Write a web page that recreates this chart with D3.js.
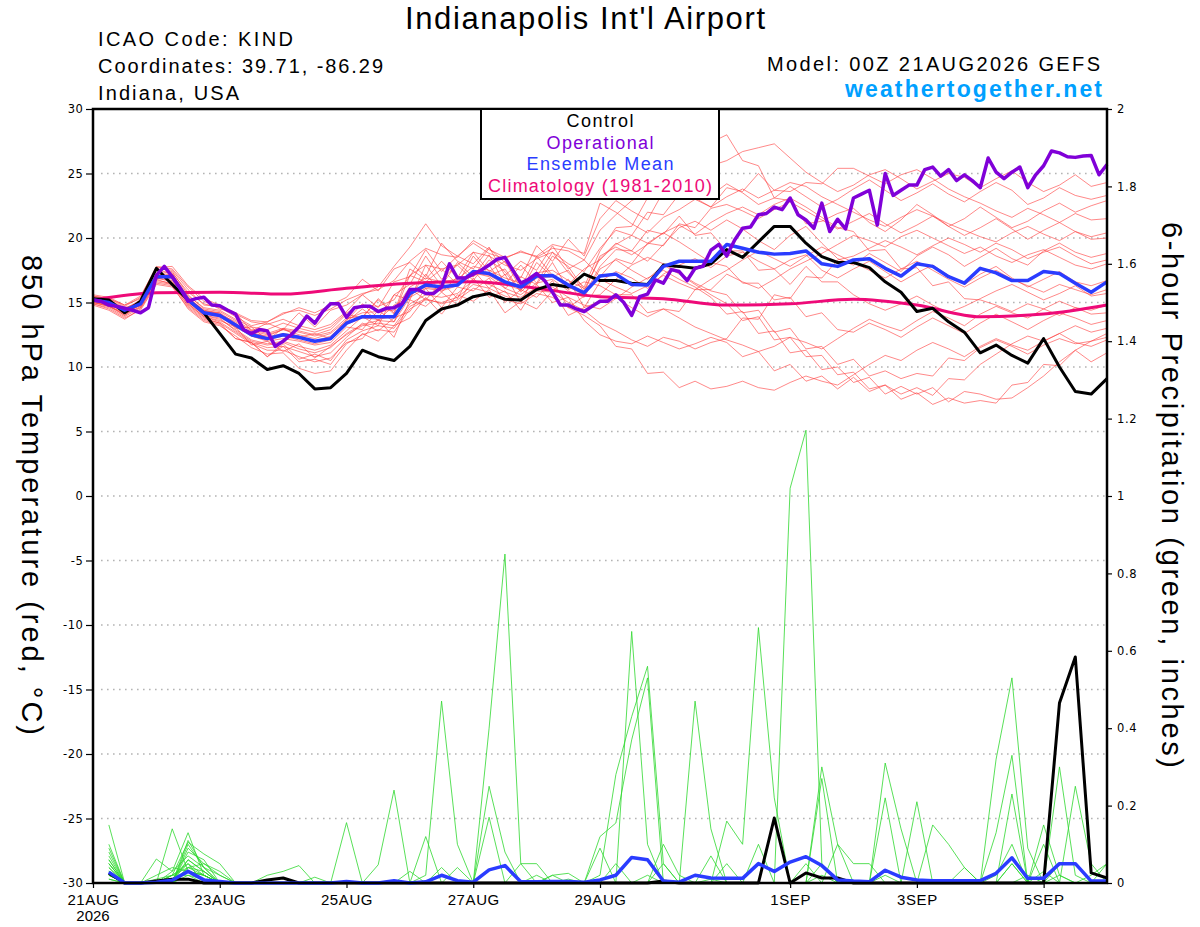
<!DOCTYPE html>
<html>
  <head>
    <meta charset="utf-8">
    <title>Indianapolis Int'l Airport</title>
    <script src="https://d3js.org/d3.v7.min.js"></script>
    <style type="text/css">
      body {
        margin: 0;
        background: #ffffff;
      }

      svg {
        display: block;
        font-family: 'Liberation Sans', Arial, sans-serif;
      }

      .axis text {
        font-family: 'DejaVu Sans', sans-serif;
        font-size: 11.5px;
        fill: #000;
      }

      .axis.x text {
        font-family: 'Liberation Sans', Arial, sans-serif;
        font-size: 15px;
      }

      .axis line {
        stroke: #000;
        stroke-width: 1.2px;
      }
    </style>
  </head>

  <body>
    <div class="chart"></div>
    <script type="text/javascript">
      // run time and axis ticks
      var runStart = Date.UTC(2026, 7, 21, 0);
      var runHours = 384;
      var tempTicks = [-30, -25, -20, -15, -10, -5, 0, 5, 10, 15, 20, 25, 30];
      var gridTicks = [-25, -20, -15, -10, -5, 0, 5, 10, 15, 20, 25];
      var precipTicks = [0, 0.2, 0.4, 0.6, 0.8, 1, 1.2, 1.4, 1.6, 1.8, 2];
      var dateTicks = ['2026-08-21', '2026-08-23', '2026-08-25', '2026-08-27', '2026-08-29', '2026-09-01', '2026-09-03', '2026-09-05'];

      // 850 hPa temperature, 6-hourly from 00Z 21AUG (65 values)
      var controlTemp = [15.3,15.2,14.2,15.1,17.65,16.4,15.2,14.2, 12.6,11.0,10.7,9.8,10.1,9.5,8.3,8.4, 9.5,11.3,10.8,10.5,11.6,13.6,14.5,14.8, 15.45,15.7,15.25,15.2,16.0,16.4,16.2,17.2, 16.7,16.7,16.5,16.4,17.9,17.8,17.65,18.0, 19.1,18.5,19.7,20.9,20.9,19.6,18.55,18.1, 18.1,17.7,16.6,15.8,14.3,14.55,13.5,12.7, 11.1,11.7,10.9,10.3,12.2,10.0,8.1,7.9, 9.1];

      var meanTemp = [15.2,15.0,14.4,14.9,17.0,17.0,15.2,14.2, 14.0,13.25,12.5,12.2,12.5,12.3,12.0,12.2, 13.4,13.9,13.9,13.9,15.7,16.35,16.2,16.35, 17.4,17.25,16.6,16.2,17.05,17.1,16.35,15.75, 17.05,17.2,16.4,16.35,17.8,18.2,18.2,18.2, 19.5,19.2,18.9,18.75,18.8,19.0,18.0,17.8, 18.3,18.4,17.65,17.05,18.0,17.8,17.0,16.5, 17.65,17.3,16.7,16.7,17.4,17.25,16.5,15.8, 16.6];

      // operational run is 3-hourly (129 values)
      var operTemp = [15.2,15.1,14.8,14.7,14.55,14.4,14.2,14.6,17.1,17.8, 17.0,16.1,15.1,15.3,15.4,14.8,14.75,14.4,14.1,12.9, 12.6,12.9,12.8,11.6,12.0,12.5,13.1,13.95,13.4,14.3, 14.9,14.9,13.85,14.6,14.7,14.7,14.3,14.55,14.6,14.9, 16.0,16.0,15.7,15.7,16.2,18.0,16.9,16.9,17.2,17.5, 17.9,18.35,18.5,17.5,16.5,16.8,17.25,16.7,15.8,14.8, 14.8,14.5,14.3,14.7,15.1,
        15.1,15.6,15.0,14.0,15.45,15.65,16.75,16.5,17.55,17.4, 16.7,17.65,17.8,19.05,19.5,18.6,19.85,20.75,20.85,21.8, 21.9,22.4,22.2,23.1,21.8,21.4,20.75,22.7,20.5,21.45, 20.7,23.1,23.4,23.7,21.0,25.0,23.3,23.7,24.1,24.1, 25.3,25.5,24.8,25.3,24.45,24.9,24.45,23.9,26.2,25.1, 24.6,25.1,25.5,23.9,24.9,25.6,26.75,26.6,26.3,26.25, 26.35,26.4,24.9,25.7];

      // 1981-2010 climatology, daily at 00Z (17 values)
      var climTemp = [15.2,15.75,15.8,15.65,16.1,16.5,16.6,16.1,15.45,15.3,14.8,14.9,15.25,14.8,13.9,14.1,14.8];

      var tempMembers = [
        [15.4,15.1,14.5,15.2,17.5,17.3,15.8,14.9, 14.6,13.9,13.2,13.5,14.1,14.6,14.2,14.8, 15.4,16.8,15.9,17.6,18.1,17.0,19.6,18.2, 17.6,19.2,18.1,16.9,19.4,18.2,19.9,18.6, 21.5,22.9,22.1,21.4,23.6,24.8,24.1,23.3, 24.2,23.5,22.6,23.1,24.0,23.2,22.4,23.0, 23.8,24.5,23.7,22.9,23.5,24.2,23.4,22.8, 23.6,24.3,23.7,22.6,23.1,23.9,23.3,23.0, 23.3],
        [15.0,14.7,14.1,14.8,16.9,16.6,15.0,14.0, 13.7,12.9,12.1,11.8,12.0,11.6,11.3,11.7, 12.8,13.9,13.2,15.6,16.4,18.6,16.8,17.9, 16.7,18.3,17.4,15.8,17.0,18.9,17.3,16.2, 19.0,20.8,20.9,23.1,23.5,25.8,25.6,27.4, 28.0,26.0,25.6,23.1,22.9,21.1,21.3,21.9, 22.3,21.2,20.5,21.4,22.6,21.8,20.9,21.5, 22.4,21.6,20.8,21.3,22.1,22.7,22.0,22.5, 22.9],
        [15.5,15.3,14.7,15.4,17.8,17.6,16.2,15.1, 14.5,14.2,12.8,13.4,12.9,14.2,13.1,14.4, 14.8,15.6,16.2,17.8,19.3,21.1,19.4,18.6, 19.6,18.8,18.4,19.0,18.5,19.2,19.0,18.3, 20.6,21.8,22.9,23.5,24.4,23.8,24.6,25.6, 26.0,26.7,27.0,27.3,26.2,25.1,24.3,23.6, 24.1,24.9,25.3,24.6,23.8,24.4,25.0,24.7, 23.9,24.6,25.2,24.3,23.6,24.1,24.9,24.0, 24.3],
        [15.1,14.9,14.3,15.0,16.8,17.1,15.4,14.3, 14.2,13.4,12.6,12.4,12.9,12.5,12.2,12.6, 13.6,14.9,13.8,15.6,15.2,17.9,16.3,18.1, 17.0,18.7,16.4,17.9,16.5,18.6,17.8,16.0, 18.4,19.6,19.0,18.2,19.5,20.8,21.3,20.6, 21.4,20.7,19.8,19.1,20.2,20.9,19.6,18.4, 17.9,18.8,18.1,17.4,18.6,19.3,18.7,17.8, 18.5,19.2,18.4,17.9,19.0,19.6,18.9,18.5, 18.8],
        [15.3,15.0,14.6,14.7,17.1,16.8,15.1,14.1, 13.9,13.1,12.4,12.0,12.2,12.0,11.7,11.9, 13.1,12.9,14.4,13.5,16.1,15.2,16.6,15.3, 17.5,16.1,17.2,15.0,17.4,15.9,16.8,14.6, 16.6,17.4,16.9,16.1,17.2,17.9,18.4,17.7, 18.6,18.9,18.2,17.6,18.3,18.7,17.5,16.9, 17.6,18.2,17.4,16.6,17.3,17.9,17.1,16.4, 17.2,17.8,16.9,16.2,16.8,17.4,16.6,16.3, 16.7],
        [14.9,14.6,13.9,14.6,16.6,16.4,14.8,13.8, 13.4,12.2,11.9,10.8,11.8,10.6,11.0,10.5, 12.1,12.8,13.2,13.0,14.7,15.3,14.9,15.2, 16.1,15.8,15.2,14.9,15.7,15.4,14.6,14.0, 13.2,11.6,11.4,9.5,9.6,8.4,8.9,8.3, 8.5,8.9,8.4,8.2,8.8,9.3,8.9,8.6, 9.4,10.2,10.9,10.5,11.3,11.9,11.4,10.8, 11.6,12.2,11.7,11.3,12.0,12.6,11.9,11.6, 12.1],
        [15.2,15.1,14.4,15.1,17.2,17.4,15.6,14.5, 14.3,13.6,12.9,12.6,13.0,12.8,12.5,12.9, 14.1,13.8,15.3,14.2,17.6,16.8,18.2,16.9, 18.9,17.4,18.2,16.1,18.6,17.1,16.4,17.6, 18.3,19.5,20.2,19.6,20.4,19.7,18.9,18.1, 17.8,16.5,16.5,15.2,15.4,13.9,14.2,12.9, 12.7,13.4,12.9,12.3,13.1,13.8,13.2,12.6, 13.4,14.1,13.5,12.9,13.6,14.2,13.8,13.3, 13.6],
        [15.0,14.8,14.0,14.9,17.3,16.9,15.3,14.0, 13.8,12.8,12.0,11.7,11.9,11.4,11.1,11.5, 12.6,13.3,13.6,13.5,15.4,16.1,15.9,16.3, 17.3,17.0,16.1,15.6,16.5,16.8,15.9,15.4, 17.6,18.3,17.5,16.8,17.9,17.2,16.4,15.6, 14.9,13.6,13.9,12.1,12.3,10.8,10.9,9.4, 9.6,8.3,8.6,7.5,8.0,7.1,7.6,7.2, 7.4,7.2,8.6,8.8,10.2,10.1,11.3,10.4, 11.1],
        [15.6,15.4,14.8,15.3,17.6,17.5,16.0,14.8, 14.7,14.1,13.5,13.3,13.7,13.2,12.9,13.3, 14.3,15.6,14.6,16.6,17.0,19.1,17.4,18.6, 18.0,19.3,17.1,18.2,17.5,19.4,17.6,18.3, 17.0,18.4,18.0,19.6,19.4,21.1,20.8,22.3, 22.6,22.1,21.5,22.2,22.8,22.1,21.4,20.7, 21.3,21.9,21.1,20.4,21.0,21.7,20.9,20.2, 20.8,21.5,20.7,19.9,20.6,21.2,20.5,20.1, 20.4],
        [14.8,14.4,13.7,14.5,16.5,16.3,14.5,13.5, 13.2,12.4,11.5,11.0,11.1,9.9,9.5,9.7, 11.3,12.6,12.0,13.2,13.8,15.4,14.1,15.6, 15.1,16.0,14.2,15.1,14.5,15.9,14.0,14.6, 15.1,15.4,14.6,13.9,14.5,13.8,13.1,12.6, 12.1,11.7,11.2,11.6,12.3,11.9,11.4,12.2, 13.0,13.7,13.2,12.8,13.6,14.3,13.8,13.2, 14.1,14.7,14.2,13.8,14.5,15.1,14.6,14.4, 14.8],
        [15.3,15.2,14.6,15.0,17.0,17.2,15.5,14.6, 14.4,13.7,13.1,12.9,13.4,13.0,12.7,13.1, 14.2,14.8,14.7,15.2,17.1,17.9,17.6,17.9, 18.9,18.6,17.9,17.5,18.4,18.9,18.0,17.4, 19.2,20.6,20.2,22.0,21.8,23.4,23.1,22.4, 23.9,23.6,25.0,23.7,23.6,24.3,24.2,25.4, 25.4,24.8,24.2,24.9,25.3,24.6,23.8,23.2, 22.7,22.1,21.6,22.3,21.8,21.2,21.9,21.4, 21.5],
        [15.2,14.9,14.2,14.8,16.9,16.7,14.9,13.9, 13.6,13.1,11.7,12.0,11.2,11.8,10.7,11.6, 12.5,13.2,13.4,13.2,14.9,15.6,15.4,15.7, 16.7,16.4,15.8,15.4,16.2,16.2,15.4,14.8, 14.5,15.3,16.2,16.9,17.5,16.8,16.2,15.4, 14.1,14.3,12.6,12.8,11.1,11.3,9.8,10.0, 8.8,9.2,7.9,8.5,7.9,8.4,7.3,8.1, 7.9,7.5,7.6,8.4,9.3,10.4,11.3,12.0, 12.6],
        [15.4,15.2,14.5,15.0,16.9,17.0,15.3,14.4, 14.1,13.3,12.7,12.3,12.6,12.4,12.0,12.4, 13.5,14.5,13.6,14.8,15.4,17.2,15.8,17.0, 17.0,17.9,16.1,17.0,16.4,18.1,16.0,16.6, 16.3,15.6,15.6,14.2,14.5,14.3,16.0,16.0, 17.2,16.6,16.1,16.8,17.6,18.2,18.8,19.5, 20.2,19.8,19.3,20.1,20.6,20.0,19.4,18.8, 19.3,18.6,18.1,18.7,19.1,18.5,17.9,17.6, 18.0],
        [15.1,14.8,14.3,14.8,17.0,17.1,15.2,14.2, 14.0,13.2,12.4,12.1,12.4,12.1,11.8,12.1, 13.3,13.8,13.7,13.9,15.6,16.2,16.0,16.4, 17.3,17.1,16.4,16.0,16.9,17.0,16.2,15.6, 17.8,19.1,19.0,20.6,20.3,21.7,20.2,20.4, 19.0,19.0,17.5,17.6,16.4,17.8,16.6,16.6, 15.6,14.9,14.4,14.9,15.5,14.8,14.2,14.7, 15.3,15.9,16.4,15.8,15.2,15.7,16.3,15.5, 15.7],
        [15.3,15.0,14.4,14.9,17.1,17.0,15.3,14.3, 14.1,13.5,12.8,12.5,12.9,12.7,12.4,12.7, 13.8,13.9,15.2,14.1,17.1,16.6,17.6,16.4, 18.6,17.1,17.6,15.9,18.1,17.0,17.5,15.8, 18.6,19.3,18.7,19.5,20.4,21.0,20.3,21.2, 21.9,22.4,21.8,22.6,23.1,22.4,21.6,20.8, 20.5,19.0,19.1,17.6,17.7,16.3,16.6,15.3, 15.2,14.8,14.3,14.9,14.5,14.0,14.6,14.1, 14.2],
        [14.9,14.5,13.8,14.4,16.4,16.2,14.6,13.6, 13.3,12.2,11.9,10.8,11.6,10.4,10.6,10.2, 11.8,12.5,12.9,12.7,14.5,15.2,15.0,15.4, 16.4,16.1,15.5,15.1,15.9,15.8,15.0,14.4, 13.4,12.8,12.1,11.6,12.3,12.0,11.4,11.9, 12.2,13.8,13.7,15.6,15.3,17.0,16.9,18.3, 18.6,19.2,19.8,19.3,18.7,19.4,20.0,19.5, 18.9,19.6,19.1,18.4,18.9,19.3,18.6,18.0, 18.3],
        [15.0,14.7,14.2,14.6,16.7,16.5,14.9,13.9, 13.5,12.7,11.9,11.5,11.6,11.2,10.8,11.1, 12.3,13.4,12.8,13.8,14.3,16.1,14.6,16.2, 15.9,16.9,15.0,16.0,15.4,16.7,14.6,15.5, 15.6,16.8,17.9,18.5,18.0,17.3,16.5,15.9, 15.6,14.2,14.4,12.7,13.0,11.4,11.6,10.2, 10.6,9.3,9.7,9.1,9.5,9.3,10.7,10.5, 11.5,12.1,11.6,11.0,11.7,12.2,11.8,12.0, 12.3],
        [15.2,15.1,14.5,15.1,17.2,17.2,15.4,14.4, 14.2,13.0,13.1,12.1,13.0,12.3,12.6,12.2, 13.7,14.2,14.3,14.4,16.2,16.9,16.6,16.8, 17.8,17.5,16.9,16.5,17.3,17.5,16.7,16.1, 16.8,16.2,15.7,16.3,17.1,16.5,16.0,16.8, 17.5,18.3,19.0,18.4,17.8,18.6,19.3,18.7, 18.1,17.5,16.9,17.6,18.2,17.5,16.8,16.2, 16.9,17.5,16.8,16.3,15.8,16.4,16.0,15.6, 16.0],
        [15.5,15.3,14.8,15.5,17.7,17.8,16.3,15.3, 14.8,14.2,13.6,13.5,14.2,14.4,14.0,14.5, 15.2,15.7,16.0,16.7,18.2,19.2,18.7,18.5, 19.8,19.1,18.5,18.9,18.6,19.5,19.2,18.8, 22.7,22.0,21.1,20.4,21.6,22.2,23.0,22.4, 23.2,23.8,23.1,23.7,24.3,24.0,23.2,22.6, 22.0,21.4,20.9,21.6,22.2,21.7,21.1,20.6, 20.1,19.7,20.4,20.9,20.3,19.8,20.5,19.9, 20.0],
        [15.1,14.7,14.0,14.7,16.8,16.4,14.7,13.7, 13.4,12.6,11.8,11.3,11.3,10.8,10.4,10.7, 11.9,12.2,13.7,12.3,15.2,14.7,15.8,14.8, 16.9,15.4,15.9,14.4,16.4,15.0,15.4,13.6, 12.5,12.0,11.8,12.4,11.9,11.4,11.8,12.3, 11.9,10.8,11.2,9.7,10.2,8.9,9.3,8.3, 9.2,8.1,8.6,7.9,8.4,7.8,9.1,9.0, 10.2,11.0,11.8,12.4,12.0,12.6,13.2,12.7, 13.0]
      ];

      // 6-hour precipitation (inches), ending 06Z 21AUG onwards (64 values)
      var controlPrecip = [.025,0,0,.005,.01,.01,0,0, 0,0,.008,.013,0,0,0,0, 0,0,0,0,0,0,0,0, 0,0,0,0,0,0,0,0, 0,0,0,.005,0,0,0,0, 0,0,.168,0,.026,.013,.013,0, 0,0,0,0,0,0,0,0, 0,0,0,0,.465,.584,.026,.013];

      var meanPrecip = [.028,0,0,.002,.007,.03,.008,.004, 0,0,0,0,0,0,0,.004, 0,0,.006,0,.003,.02,.006,.002, .034,.045,.003,.003,.004,.004,.002,.008, .02,.066,.06,.005,.002,.02,.013,.012, .012,.05,.03,.054,.068,.045,.008,.005, .003,.033,.015,.008,.006,.006,.006,.006, .025,.065,.012,.012,.05,.05,.005,.005];

      var precipMembers = [
        [.15,0,0,.01,.02,.05,.02,0, 0,0,0,0,0,0,0,0, 0,0,0,0,.02,.47,.1,0, 0,0,0,0,0,.01,0,.02, .28,.43,.56,.05,0,0,0,0, 0,0,0,0,0,0,0,0, 0,.02,0,0,0,0,0,0, 0,0,0,0,0,0,0,0],
        [.04,0,0,0,.14,.03,.02,0, 0,0,0,0,0,0,0,.156, 0,0,0,0,0,0,0,0, .4,.85,.05,.05,0,0,0,0, 0,0,0,0,0,0,0,0, 0,0,0,0,0,.05,0,0, 0,0,0,0,0,0,0,0, .02,.1,0,0,0,0,0,0],
        [.06,0,0,.062,.03,.13,.02,0, 0,0,0,0,0,0,0,0, 0,.047,.24,0,0,0,0,0, 0,0,0,0,0,0,0,0, 0,.65,.1,0,0,0,0,0, 0,0,0,1.02,1.17,.05,0,0, 0,0,0,0,0,0,0,0, 0,0,0,0,.3,.02,0,0],
        [.08,0,0,0,.02,.105,.075,.05, 0,0,.02,.03,.045,0,0,0, 0,0,0,0,.12,0,0,0, .25,.08,0,0,0,0,0,0, 0,0,0,0,0,.47,.14,0, 0,0,0,0,0,0,0,0, 0,.31,.14,0,0,0,0,0, 0,.05,0,0,0,0,0,0],
        [.03,0,0,0,0,.09,.05,.03, 0,0,0,0,0,0,0,0, 0,0,0,.03,0,0,.04,0, .17,0,0,0,0,0,0,.12, .155,.37,.53,0,0,0,0,.16, .1,.66,.22,0,0,0,0,0, 0,0,0,0,0,0,0,0, 0,0,0,0,0,0,0,0],
        [.02,0,0,0,.03,.07,.04,0, 0,0,0,0,0,.015,0,0, 0,0,0,0,0,0,0,0, 0,0,0,0,.02,.025,0,.09, 0,0,0,.1,.02,0,0,0, 0,0,0,0,0,.3,.1,.05, .05,0,0,0,0,0,0,0, .32,.53,.09,0,0,0,0,0],
        [.05,0,0,0,.01,.06,.03,0, 0,0,0,0,0,0,0,0, 0,0,0,0,0,0,0,0, 0,0,0,0,0,0,0,0, 0,0,0,0,0,0,0,0, 0,0,0,0,0,.27,0,0, 0,.22,0,.21,0,0,0,0, 0,0,0,0,0,.25,.05,0],
        [.02,0,0,.02,.04,.03,.02,0, 0,0,0,0,0,0,0,0, 0,0,0,0,0,0,0,0, 0,0,0,0,0,0,0,0, 0,0,0,0,0,0,0,0, 0,0,0,0,0,0,0,0, 0,0,0,0,0,0,0,0, .13,.33,0,.15,.02,0,0,.05],
        [.1,0,0,0,.02,.04,.05,.02, 0,0,0,0,0,0,0,0, 0,0,0,0,0,0,0,0, 0,0,.05,0,0,0,0,0, 0,0,0,0,0,0,0,.05, 0,0,0,0,0,0,0,0, 0,0,0,0,.15,.1,.04,0, 0,.23,0,0,0,0,0,0],
        [.03,0,0,0,0,.11,.04,.02, 0,0,0,0,0,0,0,0, 0,0,0,0,0,0,0,0, 0,0,0,.02,0,0,0,0, 0,0,.02,0,0,0,.07,0, 0,.1,0,0,0,.02,0,0, 0,0,0,0,0,0,0,0, 0,0,0,0,.05,.05,0,0],
        [.01,0,0,0,0,.02,.01,0, 0,0,0,0,0,0,0,0, 0,0,0,0,0,0,0,0, 0,0,0,0,0,0,0,0, 0,0,0,0,0,0,0,0, 0,0,0,0,0,0,0,0, 0,0,0,0,0,0,0,0, 0,0,0,0,0,0,0,0],
        [.05,0,0,0,0,.08,.06,0, 0,0,0,0,0,0,0,0, 0,0,0,0,0,0,0,0, 0,0,0,0,.02,0,0,0, 0,0,0,.05,0,0,0,0, 0,0,0,0,0,0,0,0, 0,0,0,0,0,0,0,0, 0,0,0,0,0,0,0,0],
        [.07,0,0,0,0,.04,.03,0, 0,0,0,0,0,0,0,0, 0,0,0,0,0,0,0,0, 0,0,0,0,0,0,0,0, 0,0,0,0,0,0,0,0, 0,0,0,0,0,0,.1,0, 0,0,0,0,0,0,0,0, 0,0,0,0,0,0,0,0],
        [.04,0,0,0,.01,.05,0,0, 0,0,0,0,0,0,0,0, 0,0,0,0,0,0,0,0, 0,0,0,0,0,0,0,0, .05,0,0,0,0,0,0,0, 0,0,0,0,0,0,0,0, 0,0,0,0,0,0,0,0, 0,0,0,.1,0,0,0,0],
        [.06,0,0,0,0,.03,.02,0, 0,0,0,0,0,0,0,0, 0,0,0,0,0,0,0,0, 0,0,0,0,0,0,0,0, 0,0,0,0,0,0,0,0, 0,0,0,0,0,0,0,0, 0,0,0,0,0,0,0,0, 0,0,0,0,0,0,0,0],
        [.02,0,0,0,0,.06,.03,0, 0,0,0,0,0,0,0,0, 0,0,0,0,0,.04,0,0, 0,0,0,0,0,0,0,0, 0,0,0,0,0,0,.01,0, 0,0,0,0,.05,0,0,0, 0,0,0,0,0,0,0,0, 0,0,.02,0,0,0,0,0],
        [.03,0,0,0,0,.04,.02,0, 0,0,0,0,0,0,0,0, 0,0,0,0,0,0,0,0, 0,0,0,0,0,0,0,0, 0,0,0,0,0,0,0,0, 0,0,0,0,0,0,0,0, 0,0,0,0,0,0,.04,0, 0,0,0,.03,0,0,0,0],
        [.05,0,0,0,.02,.02,0,0, 0,0,0,0,0,0,0,0, 0,0,0,0,0,0,0,0, 0,0,0,0,0,0,0,0, 0,0,0,0,0,0,0,0, 0,0,0,0,0,0,0,0, 0,0,0,0,0,0,0,0, 0,.05,0,0,.02,0,0,0],
        [.01,0,0,0,0,.03,.01,0, 0,0,0,0,0,0,0,0, 0,0,0,0,0,0,0,0, 0,0,0,0,0,0,0,0, 0,0,0,0,0,0,0,0, 0,0,0,0,0,0,0,0, 0,0,0,0,0,0,0,0, 0,0,0,0,0,0,.02,.05],
        [.09,0,0,0,0,.1,.04,0, 0,0,0,0,0,0,0,0, 0,0,0,0,0,0,0,0, 0,0,0,0,0,0,0,0, 0,0,0,0,0,0,0,0, 0,0,0,0,0,0,0,0, 0,0,0,0,0,0,0,0, 0,0,0,0,0,0,0,0]
      ];

      var legendItems = [
        {label: 'Control', color: '#000000'},
        {label: 'Operational', color: '#8000d8'},
        {label: 'Ensemble Mean', color: '#2a3cff'},
        {label: 'Climatology (1981-2010)', color: '#ee0a78'}
      ];

      function hoursToDate (h) {
        return new Date(runStart + h * 3600 * 1000);
      }

      function drawChart () {
        var width = 1200;
        var height = 927;
        var left = 93, right = 1107, top = 109, bottom = 883;

        var svg = d3.select('.chart').append('svg')
          .attr('width', width)
          .attr('height', height);

        var x = d3.scaleUtc()
          .domain([hoursToDate(0), hoursToDate(runHours)])
          .range([left, right]);
        var yT = d3.scaleLinear().domain([-30, 30]).range([bottom, top]);
        var yP = d3.scaleLinear().domain([0, 2]).range([bottom, top]);

        // dotted grid every 5 degrees
        svg.append('g').selectAll('line')
          .data(gridTicks)
          .enter()
          .append('line')
            .attr('x1', left + 8)
            .attr('x2', right - 2)
            .attr('y1', function(d){return yT(d)})
            .attr('y2', function(d){return yT(d)})
            .attr('stroke', '#b4b4b4')
            .attr('stroke-width', 1.6)
            .attr('stroke-dasharray', '1.6,4.4');

        var tempLine = function (step) {
          return d3.line()
            .x(function(d, i){return x(hoursToDate(i * step))})
            .y(function(d){return yT(d)});
        };
        var precipLine = d3.line()
          .x(function(d, i){return x(hoursToDate((i + 1) * 6))})
          .y(function(d){return yP(d)});

        svg.append('g').selectAll('path')
          .data(tempMembers)
          .enter()
          .append('path')
            .attr('d', tempLine(6))
            .attr('fill', 'none')
            .attr('stroke', '#ff3b3b')
            .attr('stroke-opacity', 0.8)
            .attr('stroke-width', 0.75);

        svg.append('g').selectAll('path')
          .data(precipMembers)
          .enter()
          .append('path')
            .attr('d', precipLine)
            .attr('fill', 'none')
            .attr('stroke', '#2ed82e')
            .attr('stroke-width', 0.8);

        var climLine = d3.line()
          .x(function(d, i){return x(hoursToDate(i * 24))})
          .y(function(d){return yT(d)})
          .curve(d3.curveMonotoneX);

        svg.append('path')
          .attr('d', climLine(climTemp))
          .attr('fill', 'none')
          .attr('stroke', '#ee0a78')
          .attr('stroke-width', 3);

        svg.append('path')
          .attr('d', precipLine(controlPrecip))
          .attr('fill', 'none')
          .attr('stroke', '#000')
          .attr('stroke-width', 3)
          .attr('stroke-linejoin', 'round');

        svg.append('path')
          .attr('d', tempLine(6)(controlTemp))
          .attr('fill', 'none')
          .attr('stroke', '#000')
          .attr('stroke-width', 3)
          .attr('stroke-linejoin', 'round');

        svg.append('path')
          .attr('d', precipLine(meanPrecip))
          .attr('fill', 'none')
          .attr('stroke', '#2a3cff')
          .attr('stroke-width', 3.5)
          .attr('stroke-linejoin', 'round');

        svg.append('path')
          .attr('d', tempLine(6)(meanTemp))
          .attr('fill', 'none')
          .attr('stroke', '#2a3cff')
          .attr('stroke-width', 3.5)
          .attr('stroke-linejoin', 'round');

        svg.append('path')
          .attr('d', tempLine(3)(operTemp))
          .attr('fill', 'none')
          .attr('stroke', '#8000d8')
          .attr('stroke-width', 3.5)
          .attr('stroke-linejoin', 'round');

        // axes
        var yAxisLeft = d3.axisLeft(yT)
          .tickValues(tempTicks)
          .tickSize(7)
          .tickPadding(2.5)
          .tickFormat(function(d){return String(d)});
        var yAxisRight = d3.axisRight(yP)
          .tickValues(precipTicks)
          .tickSize(5)
          .tickPadding(5)
          .tickFormat(function(d){return String(d)});
        var xAxis = d3.axisBottom(x)
          .tickValues(dateTicks.map(function(s){return new Date(s + 'T00:00:00Z')}))
          .tickSize(5)
          .tickPadding(6)
          .tickFormat(function(d){return d3.utcFormat('%-d%b')(d).toUpperCase()});

        svg.append('g').attr('class', 'axis y').attr('transform', 'translate(' + left + ',0)').call(yAxisLeft);
        svg.append('g').attr('class', 'axis y2').attr('transform', 'translate(' + right + ',0)').call(yAxisRight);
        svg.append('g').attr('class', 'axis x').attr('transform', 'translate(0,' + bottom + ')').call(xAxis);
        svg.selectAll('.axis .domain').remove();
        svg.selectAll('.axis text').attr('letter-spacing', 0.6);

        svg.append('text')
          .attr('x', left)
          .attr('y', 921)
          .attr('text-anchor', 'middle')
          .attr('font-size', 15)
          .text('2026');

        // frame
        svg.append('rect')
          .attr('x', left)
          .attr('y', top)
          .attr('width', right - left)
          .attr('height', bottom - top)
          .attr('fill', 'none')
          .attr('stroke', '#000')
          .attr('stroke-width', 2.5);

        // legend box
        svg.append('rect')
          .attr('x', 481)
          .attr('y', top)
          .attr('width', 238)
          .attr('height', 90)
          .attr('fill', '#fff')
          .attr('stroke', '#000')
          .attr('stroke-width', 2);

        var legendWidths = [67, 107, 147, 224];
        svg.append('g').selectAll('text')
          .data(legendItems)
          .enter()
          .append('text')
            .attr('x', 600)
            .attr('y', function(d, i){return 127 + i * 21.5})
            .attr('text-anchor', 'middle')
            .attr('font-size', 18)
            .attr('textLength', function(d, i){return legendWidths[i]})
            .attr('lengthAdjust', 'spacing')
            .attr('fill', function(d){return d.color})
            .text(function(d){return d.label});

        // titles
        var texts = [
          {t: "Indianapolis Int'l Airport", x: 405, y: 29, size: 31, len: 360},
          {t: 'ICAO Code: KIND', x: 98, y: 46, size: 20, len: 195},
          {t: 'Coordinates: 39.71, -86.29', x: 98, y: 73, size: 20, len: 285},
          {t: 'Indiana, USA', x: 98, y: 100, size: 20, len: 141},
          {t: 'Model: 00Z 21AUG2026 GEFS', x: 767, y: 71, size: 20, len: 333}
        ];
        svg.append('g').selectAll('text')
          .data(texts)
          .enter()
          .append('text')
            .attr('x', function(d){return d.x})
            .attr('y', function(d){return d.y})
            .attr('font-size', function(d){return d.size})
            .attr('textLength', function(d){return d.len})
            .attr('lengthAdjust', 'spacing')
            .text(function(d){return d.t});

        svg.append('text')
          .attr('x', 845)
          .attr('y', 97)
          .attr('font-size', 23)
          .attr('font-weight', 'bold')
          .attr('fill', '#00a0ff')
          .attr('textLength', 257)
          .attr('lengthAdjust', 'spacing')
          .text('weathertogether.net');

        svg.append('text')
          .attr('transform', 'translate(22,255) rotate(90)')
          .attr('font-size', 29)
          .attr('textLength', 480)
          .attr('lengthAdjust', 'spacing')
          .text('850 hPa Temperature (red, \u00B0C)');

        svg.append('text')
          .attr('transform', 'translate(1162,222) rotate(90)')
          .attr('font-size', 29)
          .attr('textLength', 546)
          .attr('lengthAdjust', 'spacing')
          .text('6-hour Precipitation (green, inches)');
      }

      drawChart();
    </script>
  </body>
</html>
